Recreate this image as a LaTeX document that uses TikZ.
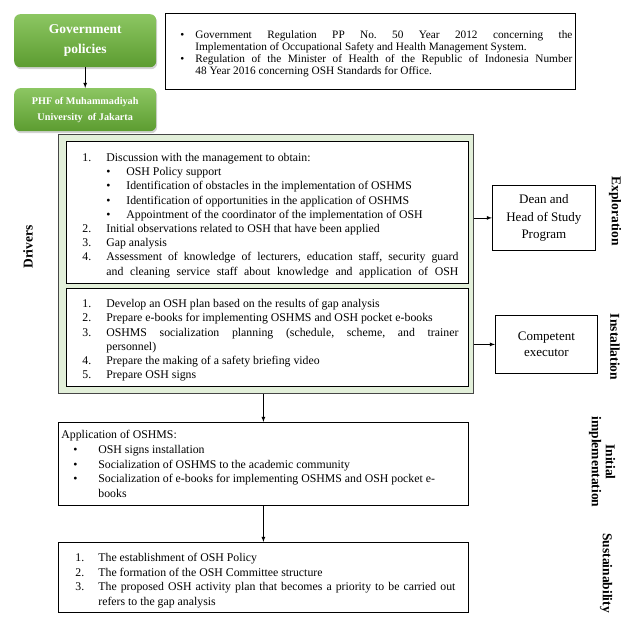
\documentclass[tikz,border=0pt]{standalone}
\usepackage{fontspec}
\setmainfont{Liberation Serif}
\usetikzlibrary{shadows}

\definecolor{govtop}{RGB}{140,198,98}
\definecolor{govbot}{RGB}{92,156,48}
\definecolor{drvfill}{RGB}{226,239,217}
\definecolor{drvline}{RGB}{70,70,70}

% list lines with a hanging label
\newcommand{\lstitem}[3]{\par\hangindent=#1\hangafter=1\noindent\makebox[#1][l]{#2}#3}
\newcommand{\bulitem}[3]{\par\hangindent=\dimexpr#1+#2\relax\hangafter=1\noindent\hspace*{#1}\makebox[#2][l]{\textbullet}#3}

\begin{document}
\begin{tikzpicture}[x=1pt,y=-1pt,
	govbox/.style={rounded corners=6pt, top color=govtop, bottom color=govbot, draw=none, text=white, align=center, anchor=north west, minimum width=142, drop shadow={shadow xshift=1pt, shadow yshift=-2pt, opacity=0.35}},
	listbox/.style={draw, fill=white, line width=0.8pt, anchor=north west, align=justify, inner sep=0pt, font=\fontsize{11.8}{14.2}\selectfont\frenchspacing},
	whobox/.style={draw, line width=0.8pt, anchor=north west, align=center, inner sep=0pt, font=\fontsize{13}{17.5}\selectfont},
	sidelabel/.style={font=\fontsize{13.5}{14}\selectfont\bfseries, align=center},
	arr/.style={-latex, line width=0.8pt}]
	\useasboundingbox (0,0) rectangle (621,616);
	
	\node[govbox, minimum height=53, font=\fontsize{13.5}{20}\selectfont\bfseries] (gov) at (14,14) {Government\\policies};
	\node[govbox, minimum height=43, font=\fontsize{10.2}{16}\selectfont\bfseries] (phf) at (14,88) {PHF of Muhammadiyah\\University\ \ of Jakarta};
	\draw[arr] (gov) -- (phf);
	
	\node[listbox, minimum width=410, minimum height=76, text width=404, font=\fontsize{11.3}{12}\selectfont\frenchspacing] (reg) at (165,13) {\leftskip=12pt
		\lstitem{15pt}{\textbullet}{Government Regulation PP No. 50 Year 2012 concerning the\linebreak Implementation of Occupational Safety and Health Management System.}
		\lstitem{15pt}{\textbullet}{Regulation of the Minister of Health of the Republic of Indonesia Number\linebreak 48 Year 2016 concerning OSH Standards for Office.}\par};
	
	% drivers frame
	\node[draw=drvline, fill=drvfill, line width=1pt, anchor=north west, minimum width=415, minimum height=259, inner sep=0pt] (drv) at (58,134) {};
	\node[listbox, minimum width=402, minimum height=142, text width=382] (expl) at (66,141) {\leftskip=6pt
		\lstitem{24pt}{1.}{Discussion with the management to obtain:}
		\bulitem{24pt}{20pt}{OSH Policy support}
		\bulitem{24pt}{20pt}{Identification of obstacles in the implementation of OSHMS}
		\bulitem{24pt}{20pt}{Identification of opportunities in the application of OSHMS}
		\bulitem{24pt}{20pt}{Appointment of the coordinator of the implementation of OSH}
		\lstitem{24pt}{2.}{Initial observations related to OSH that have been applied}
		\lstitem{24pt}{3.}{Gap analysis}
		\lstitem{24pt}{4.}{Assessment of knowledge of lecturers, education staff, security guard\linebreak and cleaning service staff about knowledge and application of OSH}\parfillskip=0pt\par};
	\node[listbox, minimum width=402, minimum height=98, text width=382] (inst) at (66,288) {\leftskip=6pt
		\lstitem{24pt}{1.}{Develop an OSH plan based on the results of gap analysis}
		\lstitem{24pt}{2.}{Prepare e-books for implementing OSHMS and OSH pocket e-books}
		\lstitem{24pt}{3.}{OSHMS socialization planning (schedule, scheme, and trainer\linebreak personnel)}
		\lstitem{24pt}{4.}{Prepare the making of a safety briefing video}
		\lstitem{24pt}{5.}{Prepare OSH signs}\par};
	\node[sidelabel, rotate=90] (drivers) at (28,247) {Drivers};
	
	\node[whobox, minimum width=103, minimum height=65] (dean) at (492,185) {Dean and\\Head of Study\\Program};
	\node[whobox, minimum width=102, minimum height=58, font=\fontsize{13}{16.5}\selectfont] (exec) at (495,315) {Competent\\executor};
	\draw[arr] (dean.west -| drv.east) -- (dean.west);
	\draw[arr] (exec.west -| drv.east) -- (exec.west);
	
	\node[listbox, minimum width=410, minimum height=83, text width=404, font=\fontsize{11.8}{14.6}\selectfont\frenchspacing] (app) at (58,422) {
		\noindent Application of OSHMS:
		\par\leftskip=12pt
		\lstitem{25pt}{\textbullet}{OSH signs installation}
		\lstitem{25pt}{\textbullet}{Socialization of OSHMS to the academic community}
		\lstitem{25pt}{\textbullet}{Socialization of e-books for implementing OSHMS and OSH pocket e-\newline books}\par};
	\draw[arr] (app.north |- drv.south) -- (app.north);
	
	\node[listbox, minimum width=410, minimum height=70, text width=384, font=\fontsize{11.8}{14.6}\selectfont\frenchspacing] (sust) at (58,542) {\leftskip=4pt
		\lstitem{23pt}{1.}{The establishment of OSH Policy}
		\lstitem{23pt}{2.}{The formation of the OSH Committee structure}
		\lstitem{23pt}{3.}{The proposed OSH activity plan that becomes a priority to be carried out\linebreak refers to the gap analysis}\par};
	\draw[arr] (app) -- (sust);
	
	\node[sidelabel, rotate=-90] (explab) at (615,211) {Exploration};
	\node[sidelabel, rotate=-90] (instlab) at (615,347) {Installation};
	\node[sidelabel, rotate=-90] (initlab) at (602,462) {Initial\\implementation};
	\node[sidelabel, rotate=-90] (sustlab) at (606,573) {Sustainability};
\end{tikzpicture}
\end{document}
